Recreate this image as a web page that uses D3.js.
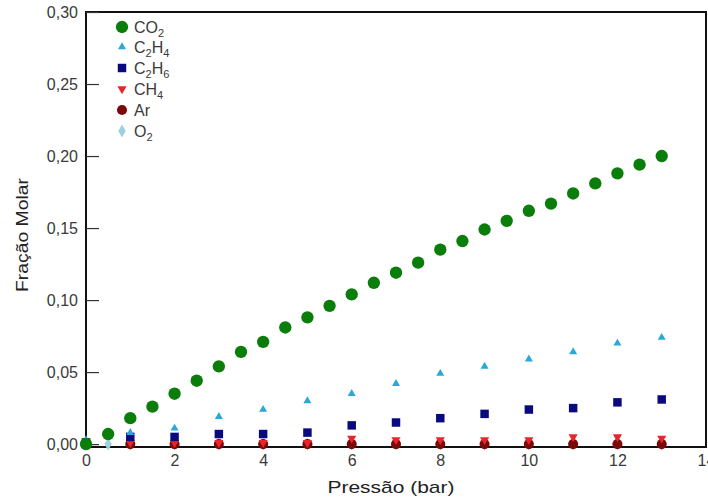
<!DOCTYPE html>
<html><head><meta charset="utf-8">
<script src="https://cdn.jsdelivr.net/npm/d3@7"></script>
<style>body{margin:0;background:#fff;} svg{display:block;font-family:"Liberation Sans",Arial,sans-serif;}</style>
</head><body>
<svg id="chart" width="708" height="500"></svg>
<script>
const xCO2 = [0,0.5,1,1.5,2,2.5,3,3.5,4,4.5,5,5.5,6,6.5,7,7.5,8,8.5,9,9.5,10,10.5,11,11.5,12,12.5,13];
const co2  = [0.000,0.007,0.018,0.026,0.035,0.044,0.054,0.064,0.071,0.081,0.088,0.096,0.104,0.112,0.119,0.126,0.135,0.141,0.149,0.155,0.162,0.167,0.174,0.181,0.188,0.194,0.200];
const xOthers = [0,1,2,3,4,5,6,7,8,9,10,11,12,13];
const c2h4 = [0.003,0.008,0.011,0.019,0.024,0.030,0.035,0.042,0.049,0.054,0.059,0.064,0.070,0.074];
const c2h6 = [0.001,0.005,0.005,0.007,0.007,0.008,0.013,0.015,0.018,0.021,0.024,0.025,0.029,0.031];
const ch4  = [0.002,0.001,0.001,0.001,0.001,0.001,0.004,0.003,0.003,0.003,0.003,0.005,0.005,0.004];
const ar   = [0.001,0.000,0.000,0.000,0.000,0.000,0.000,0.000,0.000,0.000,0.000,0.000,0.000,0.000];
const xO2  = [0,0.5,1,2,3,4,5,6,7,8,9,10,11,12,13];
const o2   = [0.000,0.000,0.000,0.000,0.000,0.000,0.000,0.000,0.000,0.000,0.000,0.000,0.000,0.000,0.000];
const xTicks = [0,2,4,6,8,10,12,14];
const yTicks = [0,0.05,0.10,0.15,0.20,0.25,0.30];
const seriesNames = ["CO2","C2H4","C2H6","CH4","Ar","O2"];
const xTitle = "Pressão (bar)";
const yTitle = "Fração Molar";

const svg = d3.select("#chart");
const L = 86, R = 706, T = 12, B = 447;
const x = d3.scaleLinear().domain([0,14]).range([L,R]);
const y = d3.scaleLinear().domain([-0.002,0.30]).range([B,T]);
const txt = "#3a3a3a";

// frame
svg.append("rect").attr("x",L).attr("y",T).attr("width",R-L).attr("height",B-T)
  .attr("fill","none").attr("stroke","#111").attr("stroke-width",2);

// y axis
const yAx = svg.append("g").attr("transform",`translate(${L},0)`)
  .call(d3.axisLeft(y).tickValues(yTicks).tickSize(-13).tickPadding(8)
    .tickFormat(d => d3.format(".2f")(d).replace(".",",")));
yAx.select(".domain").remove();
yAx.selectAll("line").attr("stroke","#333").attr("stroke-width",1.2);
yAx.selectAll("text").attr("font-size",16).attr("fill",txt).attr("x",-8).attr("text-anchor","end");

// x axis
const xAx = svg.append("g").attr("transform",`translate(0,${B})`)
  .call(d3.axisBottom(x).tickValues(xTicks).tickSize(0).tickPadding(8).tickFormat(d3.format("d")));
xAx.select(".domain").remove();
xAx.selectAll("text").attr("font-size",16).attr("fill",txt);

// titles
svg.append("text").attr("x",391).attr("y",493).attr("text-anchor","middle")
  .attr("font-size",17).attr("fill","#222").attr("textLength",127).attr("lengthAdjust","spacingAndGlyphs").text(xTitle);
svg.append("text").attr("transform","translate(28,235) rotate(-90)").attr("text-anchor","middle")
  .attr("font-size",17).attr("fill","#222").attr("textLength",114).attr("lengthAdjust","spacingAndGlyphs").text(yTitle);

// symbols
const sym = {
  circleL: d3.symbol().type(d3.symbolCircle).size(120),
  tri: d3.symbol().type(d3.symbolTriangle).size(28),
  sq: d3.symbol().type(d3.symbolSquare).size(72),
  triDown: d3.symbol().type(d3.symbolTriangle).size(36),
  circleS: d3.symbol().type(d3.symbolCircle).size(80),
  dia: d3.symbol().type(d3.symbolDiamond).size(48)
};
const cfg = [
  {name:"O2",   xs:xO2, ys:o2,   path:sym.dia,    color:"#9fd0e0", rot:0},
  {name:"Ar",   xs:xOthers, ys:ar,   path:sym.circleS,color:"#7a0a0a", rot:0},
  {name:"CH4",  xs:xOthers, ys:ch4,  path:sym.triDown,color:"#e8262a", rot:180},
  {name:"C2H6", xs:xOthers, ys:c2h6, path:sym.sq,     color:"#0a0a80", rot:0},
  {name:"C2H4", xs:xOthers, ys:c2h4, path:sym.tri,    color:"#2aa8dc", rot:0},
  {name:"CO2",  xs:xCO2, ys:co2,  path:sym.circleL,color:"#0a7d0a", rot:0}
];
cfg.forEach(s => {
  svg.append("g").selectAll("path").data(s.ys.map((v,i)=>[s.xs[i],v])).join("path")
    .attr("d", s.path())
    .attr("transform", d => `translate(${x(d[0])},${y(d[1])}) rotate(${s.rot})`)
    .attr("fill", s.color);
});

// legend
const leg = [
  {main:"CO", sub:"2", tail:"", c:"CO2"},
  {main:"C", sub:"2", tail:"H", sub2:"4", c:"C2H4"},
  {main:"C", sub:"2", tail:"H", sub2:"6", c:"C2H6"},
  {main:"CH", sub:"4", tail:"", c:"CH4"},
  {main:"Ar", sub:"", tail:"", c:"Ar"},
  {main:"O", sub:"2", tail:"", c:"O2"}
];
const legY = [27,47,68,89,110,131];
leg.forEach((l,i) => {
  const s = cfg.find(c => c.name === l.c);
  const yy = legY[i];
  svg.append("path").attr("d", s.path()).attr("fill", s.color)
    .attr("transform", `translate(122,${yy}) rotate(${s.rot})`);
  const t = svg.append("text").attr("x",134).attr("y",yy+6).attr("font-size",16).attr("fill",txt);
  t.append("tspan").text(l.main);
  if (l.sub) t.append("tspan").attr("font-size",11).attr("dy",4).text(l.sub);
  if (l.tail) { t.append("tspan").attr("dy",-4).text(l.tail); t.append("tspan").attr("font-size",11).attr("dy",4).text(l.sub2); }
});
</script>
</body></html>
